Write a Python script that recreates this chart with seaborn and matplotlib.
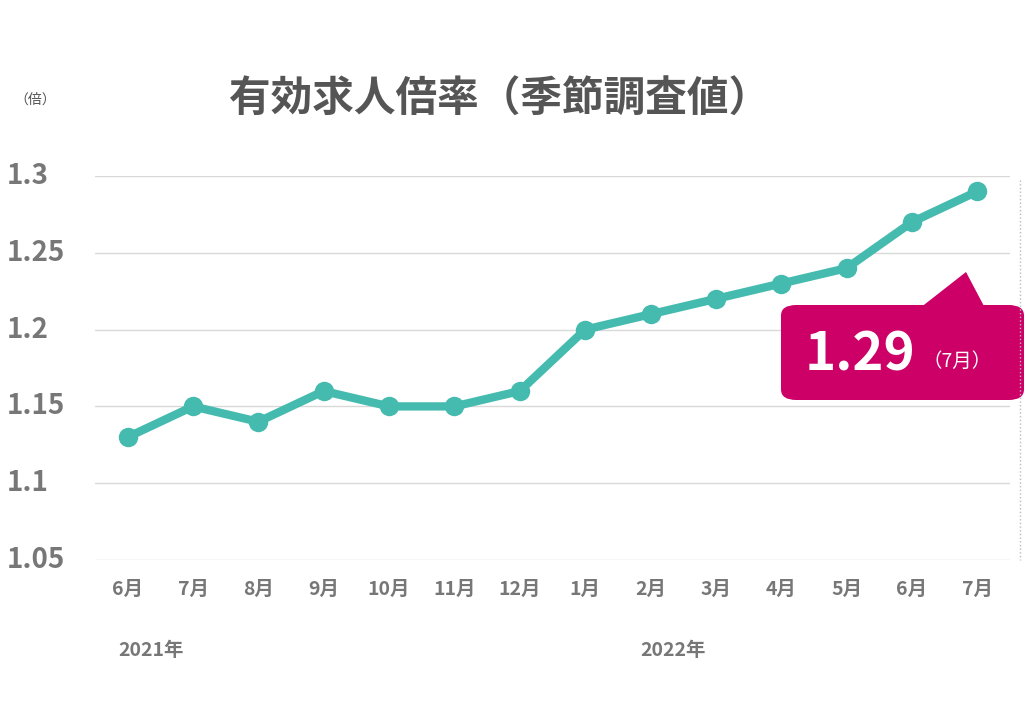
import matplotlib
matplotlib.use("Agg")
import matplotlib.pyplot as plt
import seaborn as sns
import pandas as pd
from matplotlib.patches import FancyBboxPatch, Polygon

months = ["6月","7月","8月","9月","10月","11月","12月","1月","2月","3月","4月","5月","6月","7月"]
values = [1.13,1.15,1.14,1.16,1.15,1.15,1.16,1.20,1.21,1.22,1.23,1.24,1.27,1.29]
yticks = [1.05,1.1,1.15,1.2,1.25,1.3]
ytick_labels = ["1.05","1.1","1.15","1.2","1.25","1.3"]
years = ["2021年","2022年"]

sns.set_style("white")
plt.rcParams['font.family'] = ['Noto Sans CJK JP', 'DejaVu Sans']

fig = plt.figure(figsize=(10.24,7.04), dpi=100)
ax = fig.add_axes([95/1024, 1-560/704, 915/1024, 384/704])
df = pd.DataFrame({"x": range(len(values)), "v": values})
sns.lineplot(data=df, x="x", y="v", ax=ax, color="#45BBB0", linewidth=6,
             marker="o", markersize=14, markeredgewidth=0, zorder=3)
ax.set_xlim(-0.5, 13.5)
ax.set_ylim(1.05, 1.3)
ax.set_yticks(yticks)
ax.set_yticklabels([])
ax.set_xticks(range(len(months)))
ax.set_xticklabels(months, fontsize=14, fontweight="bold", color="#777777")
ax.tick_params(axis="x", pad=14, length=0)
ax.tick_params(axis="y", length=0)
for y, lab in zip(yticks, ytick_labels):
    ax.text(-88/915, y, lab, transform=ax.get_yaxis_transform(), ha="left", va="center",
            fontsize=20, fontweight="bold", color="#777777")
ax.set_xlabel(""); ax.set_ylabel("")
for y in yticks:
    ax.axhline(y, color="#D9D9D9", linewidth=1, zorder=0)
for s in ax.spines.values():
    s.set_visible(False)

fig.text(500/1024, 1-100/704, "有効求人倍率（季節調査値）", ha="center", va="center",
         fontsize=30, fontweight="bold", color="#555555")
fig.text(14/1024, 1-100/704, "（倍）", ha="left", va="center", fontsize=10, color="#555555")
fig.text(151/1024, 1-651/704, years[0], ha="center", va="center", fontsize=14, fontweight="bold", color="#777777")
fig.text(673/1024, 1-651/704, years[1], ha="center", va="center", fontsize=14, fontweight="bold", color="#777777")

fig.add_artist(plt.Line2D([1020/1024,1020/1024],[1-180/704,1-560/704], transform=fig.transFigure,
                          color="#BBBBBB", linestyle=":", linewidth=1))

col = "#CC0066"
box = FancyBboxPatch((781/1024, 1-400/704), 243/1024, 95/704,
                     boxstyle="round,pad=0,rounding_size=0.015", transform=fig.transFigure,
                     facecolor=col, edgecolor="none")
fig.add_artist(box)
tri = Polygon([(920/1024,1-308/704),(966/1024,1-272/704),(985/1024,1-308/704)],
              closed=True, transform=fig.transFigure, facecolor=col, edgecolor="none")
fig.add_artist(tri)
fig.text(860/1024, 1-355/704, f"{values[-1]:.2f}", ha="center", va="center", fontsize=38,
         fontweight="bold", color="white")
fig.text(957/1024, 1-361/704, f"（{months[-1]}）", ha="center", va="center", fontsize=14, color="white")

fig.savefig("out.png", dpi=100)
